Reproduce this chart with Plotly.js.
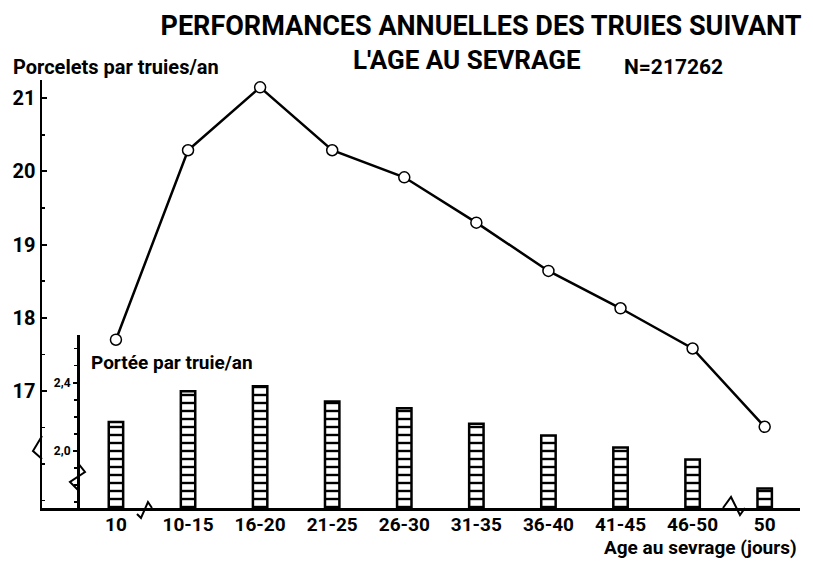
<!DOCTYPE html>
<html>
<head>
<meta charset="utf-8">
<script src="https://cdn.plot.ly/plotly-3.0.1.min.js"></script>
<style>html,body{margin:0;padding:0;background:#fff;}#chart{width:813px;height:563px;}</style>
</head>
<body>
<div id="chart"></div>
<script>
// ---- data ----
const categories = ["10", "10-15", "16-20", "21-25", "26-30", "31-35", "36-40", "41-45", "46-50", "50"];
const porceletsParTruieAn = [17.70, 20.29, 21.15, 20.29, 19.92, 19.30, 18.64, 18.13, 17.58, 16.51];
const porteeParTruieAn = [2.17, 2.35, 2.38, 2.29, 2.25, 2.16, 2.09, 2.02, 1.95, 1.78];
const mainTicks = [17, 18, 19, 20, 21];
const innerTickVals = [2.0, 2.4];
const innerTickText = ["2,0", "2,4"];

// ---- layout helpers (pixel -> paper) ----
const W = 813, H = 563, ML = 42, MR = 13, MT = 80, MB = 55;
const PW = W - ML - MR, PH = H - MT - MB;
const px = v => (v - ML) / PW;
const py = v => (H - MB - v) / PH;
const FONT = "Roboto, 'Liberation Sans', sans-serif";

function pathFromPixels(pts) {
  return pts.map((p, i) => (i ? "L" : "M") + px(p[0]).toFixed(4) + "," + py(p[1]).toFixed(4)).join(" ");
}
function breakShape(pts) {
  return {type: "path", xref: "paper", yref: "paper", path: pathFromPixels(pts),
          line: {color: "black", width: 2}, fillcolor: "rgba(0,0,0,0)"};
}

const traces = [
  {
    type: "bar", x: categories, y: porteeParTruieAn, xaxis: "x", yaxis: "y2",
    width: 0.2,
    marker: {color: "white", line: {color: "black", width: 2.5},
             pattern: {shape: "-", fgcolor: "black", bgcolor: "white", size: 8, solidity: 0.3}},
    hoverinfo: "x+y", showlegend: false
  },
  {
    type: "scatter", mode: "lines+markers", x: categories, y: porceletsParTruieAn,
    xaxis: "x", yaxis: "y",
    line: {color: "black", width: 2.5},
    marker: {symbol: "circle", size: 11, color: "white", line: {color: "black", width: 1.5}},
    cliponaxis: false, showlegend: false
  }
];

const layout = {
  width: W, height: H,
  margin: {l: ML, r: MR, t: MT, b: MB, pad: 0},
  paper_bgcolor: "white", plot_bgcolor: "rgba(0,0,0,0)",
  font: {family: FONT, color: "black", weight: "bold"},
  showlegend: false,
  bargap: 0,
  title: {
    text: "PERFORMANCES ANNUELLES DES TRUIES SUIVANT",
    font: {family: FONT, size: 27, color: "black", weight: "bold"},
    xref: "container", yref: "container",
    x: 481 / W, xanchor: "center", y: 1 - 26 / H, yanchor: "middle"
  },
  xaxis: {
    type: "category", categoryorder: "array", categoryarray: categories,
    range: [-1.026, 9.49],
    showline: true, linecolor: "black", linewidth: 2.5,
    ticks: "", showgrid: false, zeroline: false,
    ticklabelstandoff: -2,
    tickfont: {family: FONT, size: 19, color: "black", weight: "bold"},
    anchor: "y", fixedrange: true
  },
  yaxis: {
    range: [15.40, 21.25],
    tickmode: "array", tickvals: mainTicks,
    ticks: "inside", ticklen: 5, tickwidth: 2, tickcolor: "black",
    minor: {dtick: 0.5, tick0: 17, ticks: "inside", ticklen: 3, tickwidth: 1.5, tickcolor: "black"},
    showline: true, linecolor: "black", linewidth: 2.5,
    showgrid: false, zeroline: false,
    tickfont: {family: FONT, size: 20, color: "black", weight: "bold"},
    anchor: "x", fixedrange: true
  },
  yaxis2: {
    domain: [0, (H - MB - 335) / PH],
    range: [1.665, 2.68],
    anchor: "free", position: px(78), side: "left",
    tickmode: "array", tickvals: innerTickVals, ticktext: innerTickText,
    ticks: "outside", ticklen: 4, tickwidth: 2, tickcolor: "black",
    minor: {dtick: 0.1, tick0: 2.0, ticks: "outside", ticklen: 3, tickwidth: 1.5, tickcolor: "black"},
    showline: true, linecolor: "black", linewidth: 2.5,
    showgrid: false, zeroline: false,
    tickfont: {family: FONT, size: 12, color: "black", weight: "bold"},
    fixedrange: true
  },
  annotations: [
    {text: "L'AGE AU SEVRAGE", xref: "paper", yref: "paper", x: px(467), y: py(60),
     xanchor: "center", yanchor: "middle", showarrow: false,
     font: {family: FONT, size: 26, color: "black", weight: "bold"}},
    {text: "N=217262", xref: "paper", yref: "paper", x: px(673), y: py(67),
     xanchor: "center", yanchor: "middle", showarrow: false,
     font: {family: FONT, size: 21, color: "black", weight: "bold"}},
    {text: "Porcelets par truies/an", xref: "paper", yref: "paper", x: px(11), y: py(67),
     xanchor: "left", yanchor: "middle", showarrow: false,
     font: {family: FONT, size: 20, color: "black", weight: "bold"}},
    {text: "Portée par truie/an", xref: "paper", yref: "paper", x: px(89), y: py(362),
     xanchor: "left", yanchor: "middle", showarrow: false,
     font: {family: FONT, size: 19, color: "black", weight: "bold"}},
    {text: "Age au sevrage (jours)", xref: "paper", yref: "paper", x: px(799), y: py(547),
     xanchor: "right", yanchor: "middle", showarrow: false,
     font: {family: FONT, size: 19, color: "black", weight: "bold"}}
  ],
  shapes: [
    // axis break marks
    breakShape([[137, 514], [141, 518], [148, 502], [152, 508]]),
    breakShape([[723, 508], [731, 497], [740, 515], [745, 508]]),
    breakShape([[42, 436], [33, 451], [42, 459]]),
    breakShape([[78, 463], [85, 472], [70, 482], [78, 490]])
  ]
};

Plotly.newPlot("chart", traces, layout, {displayModeBar: false, staticPlot: true});
</script>
</body>
</html>
